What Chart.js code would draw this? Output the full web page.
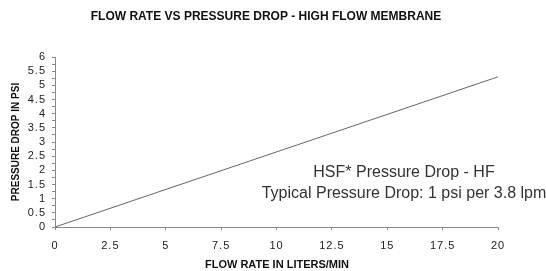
<!DOCTYPE html>
<html>
<head>
<meta charset="utf-8">
<script src="https://cdn.jsdelivr.net/npm/chart.js@4/dist/chart.umd.min.js"></script>
<style>
  html, body { margin: 0; padding: 0; background: #fff; }
  #wrap { width: 546px; height: 271px; }
</style>
</head>
<body>
<div id="wrap"><canvas id="flowChart" width="546" height="271"></canvas></div>
<script>
const chartTitle = 'FLOW RATE VS PRESSURE DROP - HIGH FLOW MEMBRANE';
const xAxisTitle = 'FLOW RATE IN LITERS/MIN';
const yAxisTitle = 'PRESSURE DROP IN PSI';
const noteLines = ['HSF* Pressure Drop - HF', 'Typical Pressure Drop: 1 psi per 3.8 lpm'];

const flowRates = [0, 20];
const pressureDrops = [0, 5.3];

const font = '"Liberation Sans", Arial, sans-serif';

// tick labels in the scan are a bit spaced out
const spacingPlugin = {
  id: 'spacing',
  beforeDraw(chart) { chart.ctx.letterSpacing = '1px'; },
  afterDraw(chart) { chart.ctx.letterSpacing = '0px'; }
};

// titles and the note are drawn as text on top of the chart
const textPlugin = {
  id: 'texts',
  afterDraw(chart) {
    const { ctx } = chart;
    ctx.save();
    ctx.letterSpacing = '0px';
    ctx.fillStyle = '#111';
    ctx.textAlign = 'center';
    ctx.textBaseline = 'middle';

    ctx.font = `bold 12px ${font}`;
    ctx.fillText(chartTitle, 266, 17);

    ctx.font = `bold 11px ${font}`;
    ctx.fillText(xAxisTitle, 277, 265);

    ctx.font = `bold 10px ${font}`;
    ctx.save();
    ctx.translate(16, 142);
    ctx.rotate(-Math.PI / 2);
    ctx.fillText(yAxisTitle, 0, 0);
    ctx.restore();

    ctx.fillStyle = '#333';
    ctx.font = `16px ${font}`;
    ctx.fillText(noteLines[0], 404, 173);
    ctx.fillText(noteLines[1], 404, 194);
    ctx.restore();
  }
};

new Chart(document.querySelector('#flowChart'), {
  type: 'line',
  data: {
    datasets: [{
      data: flowRates.map((x, i) => ({ x, y: pressureDrops[i] })),
      borderColor: '#666',
      borderWidth: 1,
      pointRadius: 0,
      tension: 0
    }]
  },
  options: {
    responsive: false,
    animation: false,
    layout: { padding: { top: 57, right: 48, left: 0, bottom: 0 } },
    plugins: { legend: { display: false }, tooltip: { enabled: false } },
    scales: {
      x: {
        type: 'linear',
        min: 0,
        max: 20,
        afterFit: (scale) => { scale.height = 44; },
        border: { display: true, color: '#888' },
        grid: { display: true, drawOnChartArea: false, tickLength: 3, color: '#888' },
        ticks: { stepSize: 2.5, padding: 9, color: '#222', font: { family: font, size: 11 }, maxRotation: 0 }
      },
      y: {
        min: 0,
        max: 6,
        afterFit: (scale) => { scale.width = 55; },
        border: { display: true, color: '#888' },
        grid: { display: true, drawOnChartArea: false, tickLength: 3, color: '#888' },
        ticks: {
          stepSize: 0.25,
          autoSkip: false,
          padding: 6,
          color: '#222',
          font: { family: font, size: 11 },
          callback: (v) => (v % 0.5 === 0 ? String(v) : '')
        }
      }
    }
  },
  plugins: [spacingPlugin, textPlugin]
});
</script>
</body>
</html>
